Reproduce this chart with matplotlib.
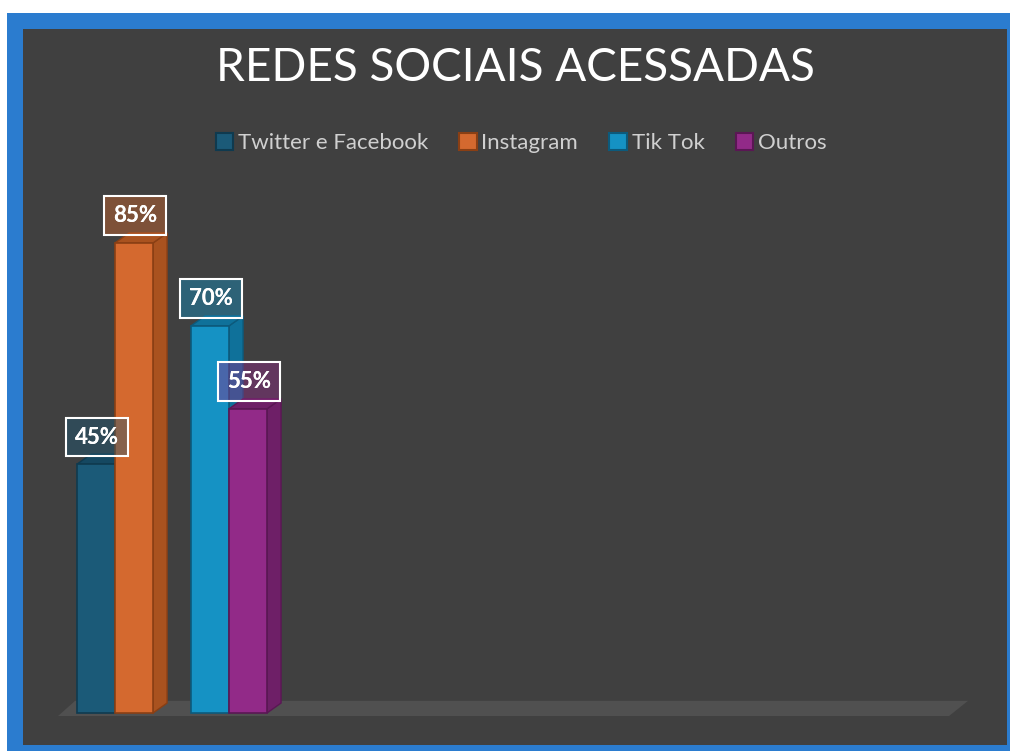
import numpy as np
import matplotlib
matplotlib.use("Agg")
import matplotlib.pyplot as plt
from matplotlib.patches import Rectangle, Polygon, Patch

# Daten
series = ["Twitter e Facebook", "Instagram", "Tik Tok", "Outros"]
values = [45, 85, 70, 55]
group_of = [0, 0, 1, 1]          # Kategorie jeder Serie
slot_in_group = [0, 1, 0, 1]
colors = ["#1b5a78", "#d4692f", "#1592c4", "#922a88"]
side_colors = ["#154861", "#a9521f", "#0f719a", "#6e1f67"]
edge_colors = ["#0f3a4f", "#8a3f14", "#0c5a7c", "#5a1754"]
title = "REDES SOCIAIS ACESSADAS"

W, H = 1010, 751
fig = plt.figure(figsize=(W / 100, H / 100), dpi=100, facecolor="white")

# Rahmen und Hintergrund
fig.patches.append(Rectangle((7 / W, 0), 1 - 7 / W, 1 - 13 / H, transform=fig.transFigure,
                             facecolor="#2b7ccf", edgecolor="none", zorder=-2))
fig.patches.append(Rectangle((23 / W, 6 / H), (1007 - 23) / W, (745 - 29) / H, transform=fig.transFigure,
                             facecolor="#404040", edgecolor="none", zorder=-1))

ax = fig.add_axes([58 / W, 38 / H, 910 / W, 553 / H])
ax.set_zorder(2)
ax.set_xlim(0, 910 / 38)
ax.set_ylim(0, 100)
ax.axis("off")
ax.patch.set_alpha(0)

dx, dy = 0.37, 1.8  # Tiefe der 3D-Balken

# Boden
x0, x1 = ax.get_xlim()
floor = Polygon([(x0, -0.55), (x0 + 0.45, 2.2), (x1, 2.2), (x1 - 0.5, -0.55)],
                closed=True, facecolor="#505050", edgecolor="none", zorder=1, clip_on=False)
ax.add_patch(floor)

xs = [1 + 3 * g + s for g, s in zip(group_of, slot_in_group)]
for i, (x, v) in enumerate(zip(xs, values)):
    z = 2 + 3 * i
    side = Polygon([(x + 0.5, 0), (x + 0.5 + dx, dy), (x + 0.5 + dx, v + dy), (x + 0.5, v)],
                   closed=True, facecolor=side_colors[i], edgecolor=edge_colors[i], lw=1,
                   zorder=z, clip_on=False)
    top = Polygon([(x - 0.5, v), (x - 0.5 + dx, v + dy), (x + 0.5 + dx, v + dy), (x + 0.5, v)],
                  closed=True, facecolor=side_colors[i], edgecolor=edge_colors[i], lw=1,
                  zorder=z, clip_on=False)
    ax.add_patch(side)
    ax.add_patch(top)
    ax.bar(x, v, width=1, color=colors[i], edgecolor=edge_colors[i], lw=1.2, zorder=z + 1, clip_on=False)
    # Datenbeschriftung: halbtransparente Box mit weissem Rand
    ax.text(x + 0.03, v + 4.9, f"{v}%", ha="center", va="center", color="white", fontsize=16,
            fontweight="bold", family="Lato", zorder=30,
            bbox=dict(boxstyle="square,pad=0.4", facecolor=colors[i], alpha=0.42,
                      edgecolor="none"))
    ax.text(x + 0.03, v + 4.9, f"{v}%", ha="center", va="center", color="white", fontsize=16,
            fontweight="bold", family="Lato", zorder=31,
            bbox=dict(boxstyle="square,pad=0.4", facecolor="none", edgecolor="white", lw=1.5))

fam = ["Lato", "DejaVu Sans"]
fig.text(515 / W, 1 - 68 / H, title, ha="center", va="center", color="white",
         fontsize=33, family=fam)

handles = [Patch(facecolor=c, edgecolor=e, lw=1.5) for c, e in zip(colors, edge_colors)]
fig.legend(handles, series, loc="center", bbox_to_anchor=(521 / W, 1 - 143 / H), ncol=4,
           frameon=False, labelcolor="#d0d0d0", prop={"family": fam, "size": 16},
           handlelength=0.8, handleheight=0.8, handletextpad=0.2, columnspacing=1.4)

fig.savefig("out.png", dpi=100, facecolor="white")
